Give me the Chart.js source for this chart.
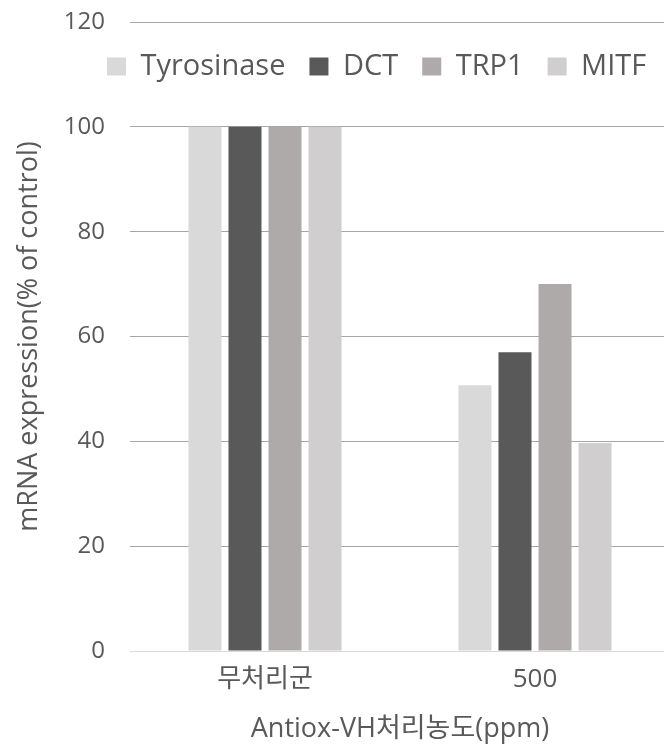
<!DOCTYPE html>
<html>
<head>
<meta charset="utf-8">
<script src="https://cdn.jsdelivr.net/npm/chart.js@4/dist/chart.umd.min.js"></script>
<style>
  html, body { margin: 0; padding: 0; overflow: hidden; background: #ffffff; }
  #wrap { width: 672px; height: 749px; }
</style>
</head>
<body>
<div id="wrap"><canvas id="chart" width="672" height="749"></canvas></div>
<script>
// Treatment groups on the x axis
const categories = ['무처리군', '500'];

// mRNA expression, % of untreated control
const tyrosinase = [100, 50.7];
const dct = [100, 57];
const trp1 = [100, 70];
const mitf = [100, 39.7];

// Y axis range
const yMin = 0;
const yMax = 120;
const yStep = 20;

const FONT = "'Open Sans', 'Noto Sans CJK KR', sans-serif";
const TEXT = '#595959';

// Keeps the legend out of the layout and places it inside the plot area, on one row
const legendInPlot = {
  id: 'legendInPlot',
  beforeLayout(chart) {
    const lg = chart.legend;
    if (lg && !lg.__inPlot) {
      const fit = lg.fit;
      lg.fit = function () {
        this.maxWidth = 2000;
        fit.call(this);
        this.__h = this.height;
        this.height = 0;
      };
      lg.__inPlot = true;
    }
  },
  afterLayout(chart, args, opts) {
    const lg = chart.legend;
    if (!lg) return;
    lg.height = lg.__h || 0;
    lg.left = opts.left;
    lg.right = opts.right;
    lg.width = opts.right - opts.left;
    lg.top = opts.top;
    lg.bottom = opts.top + lg.height;
  }
};

new Chart(document.getElementById('chart'), {
  type: 'bar',
  data: {
    labels: categories,
    datasets: [
      { label: 'Tyrosinase', data: tyrosinase, backgroundColor: '#d9d9d9' },
      { label: 'DCT', data: dct, backgroundColor: '#595959' },
      { label: 'TRP1', data: trp1, backgroundColor: '#aeaaaa' },
      { label: 'MITF', data: mitf, backgroundColor: '#d0cece' }
    ]
  },
  plugins: [legendInPlot],
  options: {
    responsive: false,
    animation: false,
    devicePixelRatio: 1,
    layout: { padding: { top: 22, left: 0, right: 2, bottom: 0 } },
    datasets: {
      bar: { categoryPercentage: 0.593, barPercentage: 0.825, borderWidth: 0 }
    },
    scales: {
      x: {
        afterFit(scale) {
          scale.height = 98;
          scale.paddingLeft = 0;
          scale.paddingRight = 0;
        },
        grid: { display: false, drawTicks: false },
        border: { display: false },
        ticks: { color: TEXT, font: { family: FONT, size: 26 }, padding: 13 },
        title: {
          display: true,
          text: 'Antiox-VH처리농도(ppm)',
          color: TEXT,
          font: { family: FONT, size: 27 },
          padding: { top: 0, bottom: 3 }
        }
      },
      y: {
        min: yMin,
        max: yMax,
        afterFit(scale) {
          scale.width = 130;
          scale.paddingTop = 0;
          scale.paddingBottom = 0;
        },
        grid: {
          drawTicks: false,
          color: (ctx) => (ctx.tick && ctx.tick.value === 0 ? '#d9d9d9' : '#a6a6a6'),
          lineWidth: 1
        },
        border: { display: false },
        ticks: { stepSize: yStep, color: TEXT, font: { family: FONT, size: 24 }, padding: 25 },
        title: {
          display: true,
          text: 'mRNA expression(% of control)',
          color: TEXT,
          font: { family: FONT, size: 27 },
          padding: { top: 13, bottom: 0 }
        }
      }
    },
    plugins: {
      legendInPlot: { left: 83, right: 700, top: 28 },
      legend: {
        position: 'top',
        align: 'start',
        labels: {
          color: TEXT,
          font: { family: FONT, size: 29 },
          boxWidth: 19,
          boxHeight: 18,
          padding: 24
        }
      },
      tooltip: { enabled: false }
    }
  }
});
</script>
</body>
</html>
